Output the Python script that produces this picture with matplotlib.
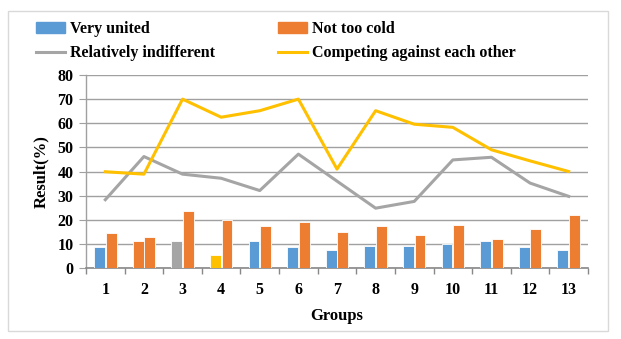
import matplotlib
matplotlib.use("Agg")
import matplotlib.pyplot as plt
import numpy as np
from matplotlib.patches import Patch
from matplotlib.lines import Line2D

groups = ["1", "2", "3", "4", "5", "6", "7", "8", "9", "10", "11", "12", "13"]
very_united = [8.5, 11.0, 11.3, 5.5, 11.3, 8.8, 7.5, 9.0, 9.0, 9.8, 11.0, 8.7, 7.5]
not_too_cold = [14.5, 13.0, 23.5, 20.0, 17.5, 19.0, 15.0, 17.3, 13.7, 18.0, 12.2, 16.0, 22.0]
relatively_indifferent = [28.3, 46.2, 38.9, 37.2, 32.1, 47.2, 36.0, 24.8, 27.6, 44.8, 45.9, 35.2, 29.7]
competing = [39.9, 38.9, 70.0, 62.5, 65.2, 70.0, 41.0, 65.2, 59.6, 58.3, 49.0, 44.4, 40.0]

BLUE = "#5B9BD5"
ORANGE = "#ED7D31"
GRAY = "#A5A5A5"
YELLOW = "#FFC000"
first_bar_colors = [BLUE, ORANGE, GRAY, YELLOW] + [BLUE] * 9

plt.rcParams['font.family'] = ['Liberation Serif', 'DejaVu Serif']
plt.rcParams['font.weight'] = 'bold'

fig = plt.figure(figsize=(6.21, 3.39), dpi=100)
ax = fig.add_axes([86/621, 1-268/339, (588-86)/621, (268-75)/339])

x = np.arange(len(groups))
w = 0.28
ax.bar(x - 0.15, very_united, w, color=first_bar_colors, edgecolor='white', linewidth=0.6, zorder=3)
ax.bar(x + 0.15, not_too_cold, w, color=ORANGE, edgecolor='white', linewidth=0.6, zorder=3)
ax.plot(x, relatively_indifferent, color=GRAY, lw=2.2, zorder=4)
ax.plot(x, competing, color=YELLOW, lw=2.2, zorder=4)

ax.set_xlim(-0.5, len(groups) - 0.5)
ax.set_ylim(0, 80)
ax.set_yticks(range(0, 81, 10))
ax.set_xticks(x)
ax.set_xticklabels(groups, fontsize=11.5, fontweight='bold')
ax.set_xticks(np.arange(-0.5, len(groups), 1), minor=True)
ax.tick_params(axis='x', which='major', length=0, pad=10)
ax.tick_params(axis='x', which='minor', length=4, color='#888888', width=1)
ax.tick_params(axis='y', length=5, color='#A0A0A0', labelsize=11.5, pad=4)
for lab in ax.get_yticklabels():
    lab.set_fontweight('bold')
ax.grid(axis='y', color='#A0A0A0', lw=1, zorder=0)
for s in ['top', 'right']:
    ax.spines[s].set_visible(False)
ax.spines['left'].set_color('#A0A0A0')
ax.spines['bottom'].set_color('#888888')
ax.spines['left'].set_linewidth(1)
ax.spines['bottom'].set_linewidth(1.2)

ax.set_ylabel("Result(%)", fontsize=12, fontweight='bold', labelpad=6)
ax.set_xlabel("Groups", fontsize=12, fontweight='bold', labelpad=7)

handles = [Patch(color=BLUE), Patch(color=ORANGE),
           Line2D([], [], color=GRAY, lw=2.2), Line2D([], [], color=YELLOW, lw=2.2)]
labels = ["Very united", "Not too cold", "Relatively indifferent", "Competing against each other"]
order = [0, 2, 1, 3]
fig.legend([handles[i] for i in order], [labels[i] for i in order], ncol=2,
           loc='upper left', bbox_to_anchor=(22/621, 1-7/339), frameon=False,
           handlelength=1.8, handletextpad=0.3, columnspacing=3.95,
           labelspacing=0.5, prop={'weight': 'bold', 'size': 11.5})

border = plt.Rectangle((8/621, 1-331/339), 600/621, 320/339, transform=fig.transFigure,
                       fill=False, edgecolor='#D9D9D9', lw=1)
fig.patches.append(border)

fig.savefig("out.png", dpi=100)
